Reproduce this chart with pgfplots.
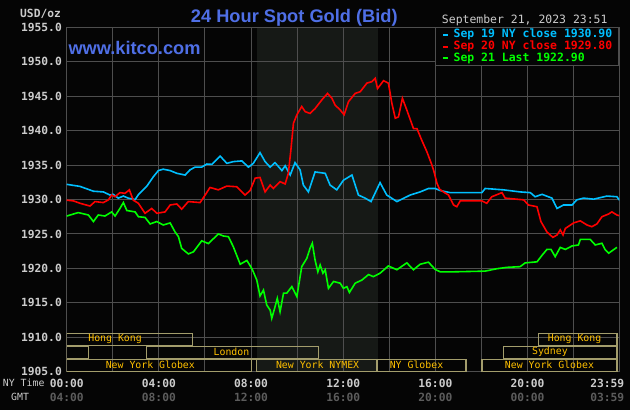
\documentclass[border=0pt]{standalone}
\usepackage{fontspec}
\usepackage{pgfplots}
\pgfplotsset{compat=1.18}
\setmainfont{Liberation Sans}
\newfontfamily\monof{DejaVu Sans Mono}

\definecolor{bg}{HTML}{050505}
\definecolor{gridc}{HTML}{4E4E4E}
\definecolor{comexbg}{HTML}{161916}
\definecolor{sepblue}{HTML}{00BFFF}
\definecolor{sepred}{HTML}{FF0000}
\definecolor{sepgreen}{HTML}{00FF00}
\definecolor{ticktext}{HTML}{CCCCCC}
\definecolor{gmttext}{HTML}{5C5C5C}
\definecolor{sessbox}{HTML}{A39D6C}
\definecolor{sesstext}{HTML}{FFC000}
\definecolor{titleblue}{HTML}{4F6FE6}

\newcommand\tickfont{\monof\bfseries\fontsize{11.3}{14}\selectfont}
\newcommand\sessfont{\monof\fontsize{9.9}{11}\selectfont}

% hours after NY midnight, price in USD/oz
\pgfplotstableread{
h p
0 1932.2
0.58 1931.9
1.16 1931.2
1.59 1931.1
1.88 1930.65
2.02 1930.75
2.24 1930.2
2.46 1930.5
2.67 1930.2
2.97 1930.0
3.11 1930.7
3.47 1931.9
3.76 1933.3
3.98 1934.2
4.19 1934.4
4.49 1934.2
4.78 1933.8
5.14 1933.55
5.35 1934.3
5.57 1934.7
5.86 1934.7
6.08 1935.15
6.30 1935.1
6.66 1936.3
6.95 1935.25
7.23 1935.5
7.60 1935.6
7.89 1934.7
8.10 1935.25
8.39 1936.8
8.61 1935.5
8.83 1934.7
9.04 1935.35
9.34 1934.2
9.48 1934.9
9.70 1933.55
9.91 1935.35
10.13 1934.3
10.27 1932.1
10.49 1931.1
10.78 1934.0
11.22 1933.8
11.43 1932.1
11.72 1931.4
12.01 1932.8
12.38 1933.55
12.66 1930.65
12.95 1930.2
13.21 1929.7
13.60 1932.45
13.89 1930.65
14.33 1929.7
14.91 1930.65
15.34 1931.1
15.70 1931.6
15.99 1931.6
16.21 1931.3
16.64 1931.0
18.02 1931.0
18.16 1931.6
18.96 1931.4
19.68 1931.1
20.12 1931.0
20.33 1930.4
20.63 1930.75
21.06 1930.2
21.28 1928.7
21.56 1929.2
21.93 1929.2
22.14 1929.95
22.43 1930.2
22.87 1930.05
23.45 1930.5
23.88 1930.4
23.99 1929.9
}\sepnineteen

\pgfplotstableread{
h p
0 1929.9
0.29 1929.8
0.58 1929.45
1.01 1929.05
1.23 1929.7
1.59 1929.55
1.81 1929.95
1.95 1930.65
2.10 1930.4
2.31 1931.0
2.53 1930.9
2.72 1931.4
2.89 1929.9
3.11 1929.45
3.40 1928.0
3.69 1928.7
3.91 1928.0
4.27 1928.2
4.49 1929.2
4.78 1929.35
4.99 1928.6
5.28 1929.7
5.79 1929.55
6.01 1930.65
6.22 1931.75
6.58 1931.4
6.95 1931.95
7.38 1931.85
7.60 1931.1
7.74 1930.65
7.96 1931.3
8.18 1933.1
8.39 1933.2
8.61 1931.1
8.83 1932.1
8.97 1931.6
9.26 1932.6
9.48 1932.25
9.62 1933.8
9.73 1937.2
9.84 1941.05
9.99 1942.3
10.20 1943.5
10.35 1942.75
10.56 1942.5
10.78 1943.2
11.07 1944.45
11.32 1945.4
11.51 1944.7
11.65 1943.7
11.87 1943.0
12.04 1942.3
12.23 1944.2
12.52 1945.4
12.74 1945.65
13.03 1946.9
13.24 1947.1
13.39 1947.6
13.49 1946.1
13.75 1947.25
13.96 1946.9
14.04 1945.4
14.11 1944.0
14.26 1941.8
14.40 1942.0
14.57 1944.7
14.76 1943.0
15.05 1940.3
15.20 1940.3
15.41 1938.6
15.63 1936.95
15.85 1935.0
15.92 1934.3
16.07 1932.35
16.18 1931.5
16.35 1931.1
16.57 1930.65
16.79 1929.2
16.93 1928.95
17.08 1929.8
18.02 1929.8
18.23 1929.45
18.45 1930.4
18.89 1931.0
19.03 1930.2
19.83 1929.95
20.04 1929.2
20.41 1928.95
20.58 1926.8
20.84 1925.3
21.10 1924.5
21.28 1924.85
21.42 1925.6
21.54 1924.85
21.64 1925.8
22.00 1926.6
22.29 1926.9
22.58 1926.3
22.79 1926.05
23.01 1926.45
23.23 1927.5
23.52 1927.9
23.66 1928.2
23.88 1927.75
23.99 1927.65
}\septwenty

\pgfplotstableread{
h p
0 1927.6
0.50 1928.1
0.94 1927.75
1.16 1926.8
1.37 1927.75
1.66 1927.6
1.95 1928.2
2.10 1927.6
2.31 1928.7
2.46 1929.55
2.61 1928.4
2.97 1928.2
3.11 1927.5
3.40 1927.4
3.62 1926.45
3.91 1926.8
4.19 1926.3
4.49 1926.6
4.70 1925.3
4.85 1924.6
4.99 1922.9
5.28 1922.1
5.50 1922.4
5.86 1924.0
6.15 1923.6
6.58 1925.0
6.80 1924.7
7.02 1924.6
7.23 1923.15
7.53 1920.6
7.82 1921.15
8.03 1920.0
8.10 1919.5
8.25 1918.3
8.39 1916.0
8.54 1916.85
8.68 1914.7
8.83 1913.95
8.90 1912.75
9.04 1914.4
9.14 1915.65
9.26 1913.7
9.41 1916.4
9.55 1916.4
9.77 1917.35
9.99 1915.9
10.20 1920.25
10.42 1921.45
10.56 1922.9
10.66 1923.65
10.78 1921.2
10.90 1919.5
11.00 1920.5
11.12 1919.3
11.22 1919.8
11.36 1917.1
11.58 1918.1
11.87 1917.85
12.01 1917.1
12.16 1917.35
12.27 1916.5
12.52 1917.85
12.81 1918.3
13.10 1919.1
13.31 1918.8
13.60 1919.3
13.96 1920.35
14.33 1919.8
14.76 1920.8
15.05 1919.8
15.34 1920.6
15.70 1920.9
15.99 1919.85
16.21 1919.5
16.79 1919.5
18.16 1919.6
18.67 1919.95
19.11 1920.15
19.68 1920.25
19.90 1920.8
20.41 1920.95
20.63 1921.9
20.84 1922.75
21.02 1922.75
21.20 1921.7
21.42 1923.05
21.64 1922.75
21.93 1923.25
22.21 1923.4
22.29 1924.2
22.72 1924.2
22.94 1923.4
23.23 1923.65
23.37 1922.7
23.52 1922.2
23.73 1922.7
23.88 1923.05
}\septwentyone

\begin{document}
\begin{tikzpicture}
\begin{axis}[
  at={(66.7bp,38.3bp)}, anchor=south west,
  scale only axis, width=552.6bp, height=344.4bp,
  xmin=0, xmax=23.983, ymin=1905, ymax=1955,
  set layers,
  axis line style={draw=gridc, line width=1bp},
  grid=both,
  major grid style={draw=gridc, line width=1bp},
  minor grid style={draw=gridc, line width=1bp},
  major tick length=0pt, minor tick length=0pt,
  xtick={0,4,8,12,16,20},
  minor xtick={2,6,10,14,18,22},
  xticklabels={
    {\textcolor{ticktext}{00:00}\\\textcolor{gmttext}{04:00}},
    {\textcolor{ticktext}{04:00}\\\textcolor{gmttext}{08:00}},
    {\textcolor{ticktext}{08:00}\\\textcolor{gmttext}{12:00}},
    {\textcolor{ticktext}{12:00}\\\textcolor{gmttext}{16:00}},
    {\textcolor{ticktext}{16:00}\\\textcolor{gmttext}{20:00}},
    {\textcolor{ticktext}{20:00}\\\textcolor{gmttext}{00:00}}},
  extra x ticks={23.983},
  extra x tick labels={{\textcolor{ticktext}{23:59}\\\textcolor{gmttext}{03:59}}},
  extra x tick style={xticklabel style={xshift=-12bp}},
  xticklabel style={font=\tickfont, align=center, anchor=north, inner sep=0pt, yshift=-6.8bp},
  ytick={1905,1910,...,1955},
  yticklabel style={font=\tickfont, text=ticktext, anchor=east, inner sep=0pt, xshift=-4.7bp,
    /pgf/number format/.cd, fixed, fixed zerofill, precision=1, 1000 sep={}, assume math mode=true},
  legend style={at={(rel axis cs:1,1)}, anchor=north east, fill=bg, draw=gridc, line width=1bp,
    font=\monof\bfseries\fontsize{11.5}{12}\selectfont, inner xsep=6.5bp, inner ysep=1.5bp, row sep=0.8bp,
    nodes={inner sep=0pt, text height=8.5bp, text depth=2.5bp},
    /tikz/every odd column/.append style={column sep=4.7bp}},
  legend cell align=left,
  legend image code/.code={\draw[#1, line width=2bp] (0bp,0bp) -- (4.5bp,0bp);},
]
\begin{pgfonlayer}{axis background}
  % black page behind everything, then the COMEX session band
  \fill[bg] ([shift={(-66.7bp,-38.3bp)}]rel axis cs:0,0) rectangle ([shift={(10.7bp,27.3bp)}]rel axis cs:1,1);
  \fill[comexbg] (8.25,1905) rectangle (13.5,1955);
\end{pgfonlayer}

% trading sessions
\begin{scope}[draw=sessbox, line width=1.3bp]
  \draw (0,1910.57) rectangle (5.47,1908.83);
  \draw (20.48,1910.57) rectangle (23.88,1908.83);
  \draw (0,1908.69) rectangle (0.94,1906.84);
  \draw (3.47,1908.69) rectangle (10.93,1906.84);
  \draw (18.96,1908.69) rectangle (23.88,1906.84);
  \draw (0,1906.74) rectangle (8.01,1905.05);
  \draw (8.25,1906.74) rectangle (13.46,1905.05);
  \draw (13.50,1906.74) rectangle (17.33,1905.05);
  \draw (18.02,1906.74) rectangle (23.88,1905.05);
\end{scope}
\begin{scope}[every node/.style={font=\sessfont, text=sesstext, inner sep=0pt}]
  \node at (2.10,1909.70) {Hong Kong};
  \node at (22.04,1909.70) {Hong Kong};
  \node at (7.15,1907.82) {London};
  \node at (20.97,1907.82) {Sydney};
  \node at (3.63,1905.97) {New York Globex};
  \node at (10.89,1905.97) {New York NYMEX};
  \node at (15.18,1905.97) {NY Globex};
  \node at (20.95,1905.97) {New York Globex};
\end{scope}

\addplot[sepblue, line width=1.6bp] table[x=h, y=p] {\sepnineteen};
\addlegendentry{\textcolor{sepblue}{Sep 19 NY close 1930.90}}
\addplot[sepred, line width=1.6bp] table[x=h, y=p] {\septwenty};
\addlegendentry{\textcolor{sepred}{Sep 20 NY close 1929.80}}
\addplot[sepgreen, line width=1.6bp] table[x=h, y=p] {\septwentyone};
\addlegendentry{\textcolor{sepgreen}{Sep 21 Last 1922.90}}
\end{axis}

\node[anchor=base, inner sep=0pt, text=titleblue, font=\bfseries\fontsize{18.3}{20}\selectfont]
  at (294.3bp,387.7bp) {24 Hour Spot Gold (Bid)};
\node[anchor=base west, inner sep=0pt, text=titleblue, font=\bfseries\fontsize{18.3}{20}\selectfont]
  at (68.3bp,355bp) {www.kitco.com};
\node[anchor=base west, inner sep=0pt, text=ticktext, font=\tickfont] at (20bp,392.7bp) {USD/oz};
\node[anchor=base east, inner sep=0pt, text=ticktext, font=\monof\fontsize{11.5}{12}\selectfont]
  at (607.7bp,386bp) {September 21, 2023 23:51};
\node[anchor=base west, inner sep=0pt, text=ticktext, font=\sessfont] at (2.7bp,23.3bp) {NY Time};
\node[anchor=base west, inner sep=0pt, text=ticktext, font=\sessfont] at (11bp,10bp) {GMT};

\pgfresetboundingbox
\path (0,0) rectangle (630bp,410bp);
\end{tikzpicture}
\end{document}
